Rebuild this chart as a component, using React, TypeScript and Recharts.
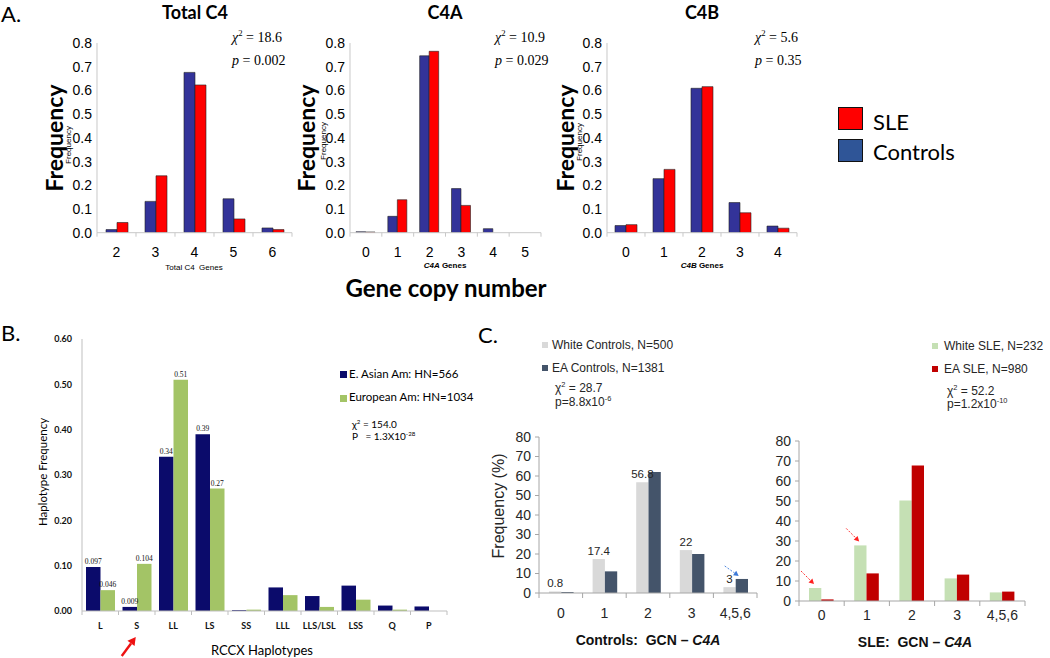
import React from "react";
import { BarChart, Bar, XAxis, YAxis, LabelList } from "recharts";

// ---------- Panel A data ----------
const totalC4Categories = ["2", "3", "4", "5", "6"];
const totalC4Controls = [0.013, 0.132, 0.676, 0.143, 0.02];
const totalC4SLE = [0.043, 0.24, 0.623, 0.058, 0.013];

const c4aCategories = ["0", "1", "2", "3", "4", "5"];
const c4aControls = [0.004, 0.069, 0.746, 0.186, 0.017, 0];
const c4aSLE = [0.003, 0.139, 0.765, 0.115, 0, 0];

const c4bCategories = ["0", "1", "2", "3", "4"];
const c4bControls = [0.03, 0.228, 0.609, 0.127, 0.028];
const c4bSLE = [0.034, 0.267, 0.616, 0.084, 0.019];

const freqTicksA = [0, 0.1, 0.2, 0.3, 0.4, 0.5, 0.6, 0.7, 0.8];

// ---------- Panel B data ----------
const haplotypes = ["L", "S", "LL", "LS", "SS", "LLL", "LLS/LSL", "LSS", "Q", "P"];
const eastAsian = [0.097, 0.009, 0.34, 0.39, 0.002, 0.052, 0.033, 0.056, 0.012, 0.01];
const european = [0.046, 0.104, 0.51, 0.27, 0.003, 0.035, 0.009, 0.025, 0.003, 0];
const eastAsianLabels = ["0.097", "0.009", "0.34", "0.39", "", "", "", "", "", ""];
const europeanLabels = ["0.046", "0.104", "0.51", "0.27", "", "", "", "", "", ""];
const haplotypeTicks = [0, 0.1, 0.2, 0.3, 0.4, 0.5, 0.6];
const arrowedHaplotype = "S";

// ---------- Panel C data ----------
const gcnCategories = ["0", "1", "2", "3", "4,5,6"];
const whiteControls = [0.8, 17.4, 56.8, 22, 3];
const whiteControlsLabels = ["0.8", "17.4", "56.8", "22", "3"];
const eaControls = [0.5, 11.1, 62.1, 20, 7.2];
const eaControlsArrow = [false, false, false, false, true];
const whiteSLE = [6.5, 27.8, 50.3, 11.3, 4.3];
const whiteSLEArrow = [true, true, false, false, false];
const eaSLE = [0.8, 13.8, 67.8, 13.2, 4.7];
const gcnTicks = [0, 10, 20, 30, 40, 50, 60, 70, 80];

// ---------- helpers ----------
const SANS = "'Liberation Sans', Arial, sans-serif";
const CAL = "Lato, 'Open Sans', sans-serif";
const SERIF = "'Liberation Serif', 'Times New Roman', serif";

type Rect = { x0: number; y0: number; x1: number; y1: number };
const M = { top: 12, right: 12, left: 0, bottom: 0 };

function placed(plot: Rect, yW: number, xH: number) {
  return {
    left: plot.x0 - yW - M.left,
    top: plot.y0 - M.top,
    width: plot.x1 - plot.x0 + yW + M.left + M.right,
    height: plot.y1 - plot.y0 + M.top + M.bottom + xH,
  };
}

function Arrow({ x1, y1, x2, y2, color, w = 1, dash, head = 5 }: any) {
  const ang = Math.atan2(y2 - y1, x2 - x1);
  const hx = x2 - head * Math.cos(ang);
  const hy = y2 - head * Math.sin(ang);
  const px = Math.sin(ang) * head * 0.55;
  const py = -Math.cos(ang) * head * 0.55;
  return (
    <g>
      <line x1={x1} y1={y1} x2={hx} y2={hy} stroke={color} strokeWidth={w} strokeDasharray={dash} />
      <polygon points={`${x2},${y2} ${hx + px},${hy + py} ${hx - px},${hy - py}`} fill={color} />
    </g>
  );
}

function makeTick(o: {
  band: number;
  n: number;
  fontSize: number;
  fontFamily: string;
  fontWeight?: any;
  fill: string;
  dy: number;
  markLen: number;
  markColor: string;
  extra?: (x: number, y: number, v: string, i: number) => React.ReactNode;
}) {
  return (props: any) => {
    const { x, y, payload, index } = props;
    const half = o.band / 2;
    return (
      <g>
        {o.markLen > 0 && (
          <line x1={x - half} x2={x - half} y1={y} y2={y + o.markLen} stroke={o.markColor} />
        )}
        {o.markLen > 0 && index === o.n - 1 && (
          <line x1={x + half} x2={x + half} y1={y} y2={y + o.markLen} stroke={o.markColor} />
        )}
        <text
          x={x}
          y={y + o.dy}
          textAnchor="middle"
          dominantBaseline="central"
          fontSize={o.fontSize}
          fontFamily={o.fontFamily}
          fontWeight={o.fontWeight}
          fill={o.fill}
        >
          {payload.value}
        </text>
        {o.extra ? o.extra(x, y, payload.value, index) : null}
      </g>
    );
  };
}

function T({ x, y, anchor = "middle", size, family = CAL, weight = 400, color = "#000", rotate, italic, children }: any) {
  const tx = anchor === "start" ? "0" : anchor === "end" ? "-100%" : "-50%";
  return (
    <div
      style={{
        position: "absolute",
        left: x,
        top: y,
        transform: `translate(${tx},-50%)${rotate ? ` rotate(${rotate}deg)` : ""}`,
        fontSize: size,
        fontFamily: family,
        fontWeight: weight,
        fontStyle: italic ? "italic" : "normal",
        color,
        lineHeight: 1,
        whiteSpace: "pre",
      }}
    >
      {children}
    </div>
  );
}

const Sup = ({ children }: any) => (
  <span style={{ fontSize: "0.62em", verticalAlign: "super", lineHeight: 0 }}>{children}</span>
);

function Square({ x, y, w, h, color, border }: any) {
  return (
    <div
      style={{
        position: "absolute",
        left: x,
        top: y,
        width: w,
        height: h,
        background: color,
        boxSizing: "border-box",
        border: border ? `1px solid ${border}` : "none",
      }}
    />
  );
}

// ---------- Panel A chart ----------
function ChartA({ plot, categories, controls, sle, barSize }: any) {
  const n = categories.length;
  const band = (plot.x1 - plot.x0) / n;
  const data = categories.map((c: string, i: number) => ({ cat: c, controls: controls[i], sle: sle[i] }));
  const yW = 40;
  const xH = 30;
  const p = placed(plot, yW, xH);
  const tick = makeTick({
    band,
    n,
    fontSize: 14,
    fontFamily: SANS,
    fill: "#000",
    dy: 19,
    markLen: 4,
    markColor: "#c8c8c8",
  });
  return (
    <div style={{ position: "absolute", left: p.left, top: p.top }}>
      <BarChart width={p.width} height={p.height} data={data} margin={M} barGap={0} barSize={barSize}>
        <XAxis
          dataKey="cat"
          height={xH}
          interval={0}
          tickSize={0}
          tickMargin={0}
          tickLine={false}
          axisLine={{ stroke: "#c8c8c8" }}
          tick={tick}
        />
        <YAxis
          width={yW}
          domain={[0, 0.8]}
          ticks={freqTicksA}
          interval={0}
          allowDataOverflow
          tickFormatter={(v: number) => v.toFixed(1)}
          tickLine={false}
          tickSize={0}
          tickMargin={5}
          axisLine={{ stroke: "#c8c8c8" }}
          tick={{ fontSize: 14, fontFamily: SANS, fill: "#000" }}
        />
        <Bar dataKey="controls" fill="#333399" stroke="#222" strokeWidth={0.6} isAnimationActive={false} />
        <Bar dataKey="sle" fill="#ff0000" stroke="#222" strokeWidth={0.6} isAnimationActive={false} />
      </BarChart>
    </div>
  );
}

// ---------- Panel B chart ----------
function ChartB() {
  const plot = { x0: 82, y0: 339, x1: 447, y1: 611 };
  const n = haplotypes.length;
  const band = (plot.x1 - plot.x0) / n;
  const data = haplotypes.map((h, i) => ({
    cat: h,
    asian: eastAsian[i],
    euro: european[i],
    asianLbl: eastAsianLabels[i],
    euroLbl: europeanLabels[i],
  }));
  const yW = 50;
  const xH = 47;
  const p = placed(plot, yW, xH);
  const tick = makeTick({
    band,
    n,
    fontSize: 9,
    fontFamily: CAL,
    fontWeight: 700,
    fill: "#111",
    dy: 14,
    markLen: 4,
    markColor: "#bfbfbf",
    extra: (x, y, v) =>
      v === arrowedHaplotype ? (
        <Arrow x1={x - 15} y1={y + 45} x2={x - 1} y2={y + 26} color="#ee1111" w={2.4} head={8} />
      ) : null,
  });
  return (
    <div style={{ position: "absolute", left: p.left, top: p.top }}>
      <BarChart width={p.width} height={p.height} data={data} margin={M} barGap={0} barSize={14.5}>
        <XAxis
          dataKey="cat"
          height={xH}
          interval={0}
          tickSize={0}
          tickMargin={0}
          tickLine={false}
          axisLine={{ stroke: "#bfbfbf" }}
          tick={tick}
        />
        <YAxis
          width={yW}
          domain={[0, 0.6]}
          ticks={haplotypeTicks}
          interval={0}
          allowDataOverflow
          tickFormatter={(v: number) => v.toFixed(2)}
          tickLine={false}
          tickSize={0}
          tickMargin={10}
          axisLine={{ stroke: "#bfbfbf" }}
          tick={{ fontSize: 9, fontFamily: CAL, fontWeight: 700, fill: "#111" }}
        />
        <Bar dataKey="asian" fill="#0b0b6b" isAnimationActive={false}>
          <LabelList dataKey="asianLbl" position="top" offset={3} fontSize={7.5} fontFamily={SERIF} fill="#111" />
        </Bar>
        <Bar dataKey="euro" fill="#a3c466" isAnimationActive={false}>
          <LabelList dataKey="euroLbl" position="top" offset={3} fontSize={7.5} fontFamily={SERIF} fill="#111" />
        </Bar>
      </BarChart>
    </div>
  );
}

// ---------- Panel C charts ----------
function ChartC({ plot, first, second, firstColor, secondColor, firstLabels, firstArrow, secondArrow, arrowColor, tickDy }: any) {
  const n = gcnCategories.length;
  const band = (plot.x1 - plot.x0) / n;
  const data = gcnCategories.map((c, i) => ({
    cat: c,
    a: first[i],
    b: second[i],
    aLbl: firstLabels ? firstLabels[i] : "",
    aArrow: firstArrow ? firstArrow[i] : false,
    bArrow: secondArrow ? secondArrow[i] : false,
  }));
  const yW = 40;
  const xH = 30;
  const p = placed(plot, yW, xH);
  const tick = makeTick({
    band,
    n,
    fontSize: 14,
    fontFamily: SANS,
    fill: "#262626",
    dy: tickDy,
    markLen: 5,
    markColor: "#a6a6a6",
  });
  const arrowContent = (rel: any) => (props: any) => {
    const { x, y, value } = props;
    if (!value) return null;
    return (
      <Arrow
        x1={x + rel.sx}
        y1={y + rel.sy}
        x2={x + rel.ex}
        y2={y + rel.ey}
        color={arrowColor}
        w={0.9}
        dash="2 1.5"
        head={5}
      />
    );
  };
  return (
    <div style={{ position: "absolute", left: p.left, top: p.top }}>
      <BarChart width={p.width} height={p.height} data={data} margin={M} barGap={0} barSize={12.3}>
        <XAxis
          dataKey="cat"
          height={xH}
          interval={0}
          tickSize={0}
          tickMargin={0}
          tickLine={false}
          axisLine={{ stroke: "#a6a6a6" }}
          tick={tick}
        />
        <YAxis
          width={yW}
          domain={[0, 80]}
          ticks={gcnTicks}
          interval={0}
          allowDataOverflow
          tickLine={{ stroke: "#a6a6a6" }}
          tickSize={4}
          tickMargin={4}
          axisLine={{ stroke: "#a6a6a6" }}
          tick={{ fontSize: 14, fontFamily: SANS, fill: "#262626" }}
        />
        <Bar dataKey="a" fill={firstColor} isAnimationActive={false}>
          {firstLabels && (
            <LabelList dataKey="aLbl" position="top" offset={4} fontSize={11.5} fontFamily={SANS} fill="#262626" />
          )}
          {firstArrow && <LabelList dataKey="aArrow" content={arrowContent({ sx: -8, sy: -17, ex: 5, ey: -4 })} />}
        </Bar>
        <Bar dataKey="b" fill={secondColor} isAnimationActive={false}>
          {secondArrow && <LabelList dataKey="bArrow" content={arrowContent({ sx: -11, sy: -13, ex: 3, ey: -3 })} />}
        </Bar>
      </BarChart>
    </div>
  );
}

const ChiA = ({ x, chi, p }: any) => (
  <>
    <T x={x} y={37.5} anchor="start" size={14} family={SERIF}>
      <span style={{ fontStyle: "italic" }}>χ</span>
      <Sup>2</Sup> = {chi}
    </T>
    <T x={x} y={61} anchor="start" size={14} family={SERIF}>
      <span style={{ fontStyle: "italic" }}>p</span> = {p}
    </T>
  </>
);

export default function App() {
  return (
    <div
      style={{
        position: "absolute",
        left: 0,
        top: 0,
        width: 1050,
        height: 658,
        background: "#fff",
        overflow: "hidden",
      }}
    >
      {/* ---------------- Panel A ---------------- */}
      <ChartA
        plot={{ x0: 97, y0: 43.3, x1: 292, y1: 233 }}
        categories={totalC4Categories}
        controls={totalC4Controls}
        sle={totalC4SLE}
        barSize={11}
      />
      <ChartA
        plot={{ x0: 350, y0: 43.3, x1: 541, y1: 233 }}
        categories={c4aCategories}
        controls={c4aControls}
        sle={c4aSLE}
        barSize={9.5}
      />
      <ChartA
        plot={{ x0: 607, y0: 43.3, x1: 797, y1: 233 }}
        categories={c4bCategories}
        controls={c4bControls}
        sle={c4bSLE}
        barSize={11}
      />

      <T x={1} y={14} anchor="start" size={22} family={CAL}>A.</T>
      <T x={195} y={12} size={18} weight={700}>Total C4</T>
      <T x={445} y={12} size={18} weight={700}>C4A</T>
      <T x={702} y={12} size={18} weight={700}>C4B</T>

      <T x={54} y={138} size={23} weight={700} rotate={-90}>Frequency</T>
      <T x={306} y={138} size={23} weight={700} rotate={-90}>Frequency</T>
      <T x={565} y={138} size={23} weight={700} rotate={-90}>Frequency</T>
      <T x={68.5} y={145} size={8} family={SANS} rotate={-90}>Frequency</T>
      <T x={323.5} y={141} size={8} family={SANS} rotate={-90}>Frequency</T>
      <T x={580} y={142} size={8} family={SANS} rotate={-90}>Frequency</T>

      <ChiA x={232} chi="18.6" p="0.002" />
      <ChiA x={495} chi="10.9" p="0.029" />
      <ChiA x={755} chi="5.6" p="0.35" />

      <T x={194} y={268} size={8} family={SANS}>Total C4  Genes</T>
      <T x={445} y={266} size={8} family={SANS} weight={700}>
        <i>C4A</i> Genes
      </T>
      <T x={702} y={266} size={8} family={SANS} weight={700}>
        <i>C4B</i> Genes
      </T>
      <T x={446} y={288} size={24} weight={700}>Gene copy number</T>

      <Square x={838} y={107} w={25} h={23} color="#ff0000" border="#111" />
      <Square x={838} y={139} w={25} h={23} color="#2f5597" border="#111" />
      <T x={873} y={122} anchor="start" size={22}>SLE</T>
      <T x={873} y={152} anchor="start" size={22}>Controls</T>

      {/* ---------------- Panel B ---------------- */}
      <ChartB />
      <T x={1} y={333} anchor="start" size={22}>B.</T>
      <T x={42.5} y={472} size={11.5} rotate={-90}>Haplotype Frequency</T>
      <T x={262} y={650} size={13}>RCCX Haplotypes</T>

      <Square x={340} y={371} w={7} h={7} color="#0b0b6b" />
      <Square x={340} y={395} w={7} h={7} color="#a3c466" />
      <T x={349} y={374} anchor="start" size={11.5}>E. Asian Am: HN=566</T>
      <T x={349} y={397} anchor="start" size={11.5}>European Am: HN=1034</T>
      <T x={352} y={424} anchor="start" size={10}>
        χ<Sup>2</Sup> = 154.0
      </T>
      <T x={352} y={436} anchor="start" size={10}>
        {"P   = 1.3X10"}
        <Sup>-28</Sup>
      </T>

      {/* ---------------- Panel C ---------------- */}
      <ChartC
        plot={{ x0: 539, y0: 437, x1: 757, y1: 593 }}
        first={whiteControls}
        second={eaControls}
        firstColor="#d9d9d9"
        secondColor="#44546a"
        firstLabels={whiteControlsLabels}
        secondArrow={eaControlsArrow}
        arrowColor="#3a78d8"
        tickDy={20}
      />
      <ChartC
        plot={{ x0: 799, y0: 441, x1: 1025, y1: 601 }}
        first={whiteSLE}
        second={eaSLE}
        firstColor="#c5e0b4"
        secondColor="#c00000"
        firstArrow={whiteSLEArrow}
        arrowColor="#ff2020"
        tickDy={14}
      />

      <T x={478} y={335} anchor="start" size={22}>C.</T>

      <Square x={542} y={342} w={6} h={6} color="#d9d9d9" />
      <Square x={542} y={365} w={6} h={6} color="#44546a" />
      <T x={552} y={345} anchor="start" size={12} family={SANS} color="#262626">White Controls, N=500</T>
      <T x={552} y={368} anchor="start" size={12} family={SANS} color="#262626">EA Controls, N=1381</T>
      <T x={555} y={388} anchor="start" size={12} family={SANS} color="#262626">
        χ<Sup>2</Sup> = 28.7
      </T>
      <T x={555} y={402} anchor="start" size={12} family={SANS} color="#262626">
        p=8.8x10<Sup>-6</Sup>
      </T>

      <Square x={932} y={343} w={6} h={6} color="#c5e0b4" />
      <Square x={932} y={366} w={6} h={6} color="#c00000" />
      <T x={944} y={346} anchor="start" size={12} family={SANS} color="#262626">White SLE, N=232</T>
      <T x={944} y={369} anchor="start" size={12} family={SANS} color="#262626">EA SLE, N=980</T>
      <T x={947} y={391} anchor="start" size={12} family={SANS} color="#262626">
        χ<Sup>2</Sup> = 52.2
      </T>
      <T x={947} y={404} anchor="start" size={12} family={SANS} color="#262626">
        p=1.2x10<Sup>-10</Sup>
      </T>

      <T x={499} y={506} size={16} family={SANS} color="#262626" rotate={-90}>Frequency (%)</T>
      <T x={648} y={640} size={14} family={SANS} weight={700} color="#111">
        {"Controls:  GCN – "}
        <i>C4A</i>
      </T>
      <T x={915} y={642} size={14} family={SANS} weight={700} color="#111">
        {"SLE:  GCN – "}
        <i>C4A</i>
      </T>
    </div>
  );
}
